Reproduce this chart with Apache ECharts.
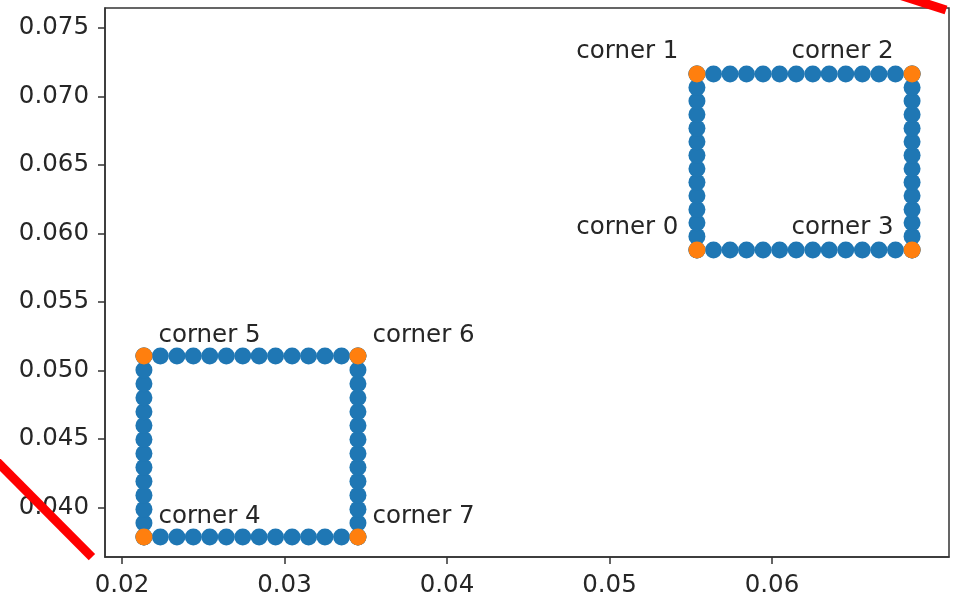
<!DOCTYPE html>
<html>
<head>
<meta charset="utf-8">
<script src="https://cdn.jsdelivr.net/npm/echarts@6/dist/echarts.min.js"></script>
<style>
  html, body { margin: 0; padding: 0; background: #fff; }
  #chart { width: 961px; height: 603px; }
</style>
</head>
<body>
<div id="chart"></div>
<script>
  // square in the upper right (corners 0..3), 14 points per edge
  const squareAX = [0.05538, 0.05640, 0.05742, 0.05843, 0.05945, 0.06047, 0.06149,
                    0.06251, 0.06352, 0.06454, 0.06556, 0.06658, 0.06760, 0.06862]
  const squareAY = [0.05880, 0.05979, 0.06078, 0.06176, 0.06275, 0.06374, 0.06473,
                    0.06572, 0.06670, 0.06769, 0.06868, 0.06967, 0.07066, 0.07164]
  // square in the lower left (corners 4..7)
  const squareBX = [0.02135, 0.02236, 0.02338, 0.02439, 0.02540, 0.02642, 0.02743,
                    0.02844, 0.02945, 0.03047, 0.03148, 0.03249, 0.03351, 0.03452]
  const squareBY = [0.03785, 0.03887, 0.03988, 0.04090, 0.04191, 0.04293, 0.04395,
                    0.04496, 0.04598, 0.04699, 0.04801, 0.04903, 0.05004, 0.05106]

  const cornerNamesA = ['corner 0', 'corner 1', 'corner 2', 'corner 3']
  const cornerNamesB = ['corner 4', 'corner 5', 'corner 6', 'corner 7']

  const xTicks = [0.02, 0.03, 0.04, 0.05, 0.06]
  const yTicks = [0.040, 0.045, 0.050, 0.055, 0.060, 0.065, 0.070, 0.075]

  // red strokes drawn over the screenshot (outside the axes)
  const redStroke1 = [[0.012185, 0.043500], [0.018150, 0.036380]]
  const redStroke2 = [[0.067262, 0.077628], [0.070708, 0.076314]]

  // all edge points of a square
  function edgePoints(xs, ys) {
    let pts = []
    let x0 = xs[0], x1 = xs[xs.length - 1]
    let y0 = ys[0], y1 = ys[ys.length - 1]
    xs.forEach((x) => { pts.push([x, y0]); pts.push([x, y1]) })
    ys.forEach((y) => { pts.push([x0, y]); pts.push([x1, y]) })
    return pts
  }

  // corners in order bottom-left, top-left, top-right, bottom-right
  function cornerPoints(xs, ys, names) {
    let x0 = xs[0], x1 = xs[xs.length - 1]
    let y0 = ys[0], y1 = ys[ys.length - 1]
    let c = [[x0, y0], [x0, y1], [x1, y1], [x1, y0]]
    return c.map((p, i) => ({ name: names[i], value: p }))
  }

  const fontFam = 'DejaVu Sans'
  const fz = 24.5
  const txtColor = '#262626'
  const frameColor = '#333'

  const myChart = echarts.init(document.getElementById('chart'))

  const option = {
    animation: false,
    grid: {
      left: 105,
      right: 12,
      top: 8,
      bottom: 46,
      show: true,
      borderColor: frameColor,
      borderWidth: 1.5
    },
    xAxis: {
      type: 'value',
      min: 0.018954,
      max: 0.070892,
      splitLine: { show: false },
      axisLine: { show: true, onZero: false, lineStyle: { color: frameColor, width: 1.5 } },
      axisTick: { show: true, length: 7, customValues: xTicks, lineStyle: { color: frameColor, width: 1.5 } },
      axisLabel: {
        customValues: xTicks,
        margin: 16,
        fontFamily: fontFam,
        fontSize: fz,
        color: txtColor,
        formatter: (v) => v.toFixed(2)
      }
    },
    yAxis: {
      type: 'value',
      min: 0.036387,
      max: 0.07646,
      splitLine: { show: false },
      axisLine: { show: true, onZero: false, lineStyle: { color: frameColor, width: 1.5 } },
      axisTick: { show: true, length: 7, customValues: yTicks, lineStyle: { color: frameColor, width: 1.5 } },
      axisLabel: {
        customValues: yTicks,
        margin: 16,
        fontFamily: fontFam,
        fontSize: fz,
        color: txtColor,
        formatter: (v) => v.toFixed(3)
      }
    },
    series: [{
      type: 'scatter',
      symbolSize: 17,
      itemStyle: { color: '#1f77b4', opacity: 1 },
      data: edgePoints(squareAX, squareAY).concat(edgePoints(squareBX, squareBY)),
      z: 2
    }, {
      type: 'scatter',
      symbolSize: 17,
      itemStyle: { color: '#ff7f0e', opacity: 1 },
      label: {
        show: true,
        position: 'left',
        distance: 10,
        offset: [0, -22],
        formatter: '{b}',
        fontFamily: fontFam,
        fontSize: fz,
        color: txtColor
      },
      data: cornerPoints(squareAX, squareAY, cornerNamesA),
      z: 3
    }, {
      type: 'scatter',
      symbolSize: 17,
      itemStyle: { color: '#ff7f0e', opacity: 1 },
      label: {
        show: true,
        position: 'right',
        distance: 6,
        offset: [0, -20],
        formatter: '{b}',
        fontFamily: fontFam,
        fontSize: fz,
        color: txtColor
      },
      data: cornerPoints(squareBX, squareBY, cornerNamesB),
      z: 3
    }]
  }

  myChart.setOption(option)

  // red strokes: positions come from the chart's own scales
  function strokeGraphic(pts) {
    let px = pts.map((p) => myChart.convertToPixel({ gridIndex: 0 }, p))
    return {
      type: 'polyline',
      silent: true,
      z: 100,
      shape: { points: px },
      style: { stroke: '#ff0000', lineWidth: 9, fill: null, lineCap: 'butt' }
    }
  }

  myChart.setOption({
    graphic: [strokeGraphic(redStroke1), strokeGraphic(redStroke2)]
  })
</script>
</body>
</html>
